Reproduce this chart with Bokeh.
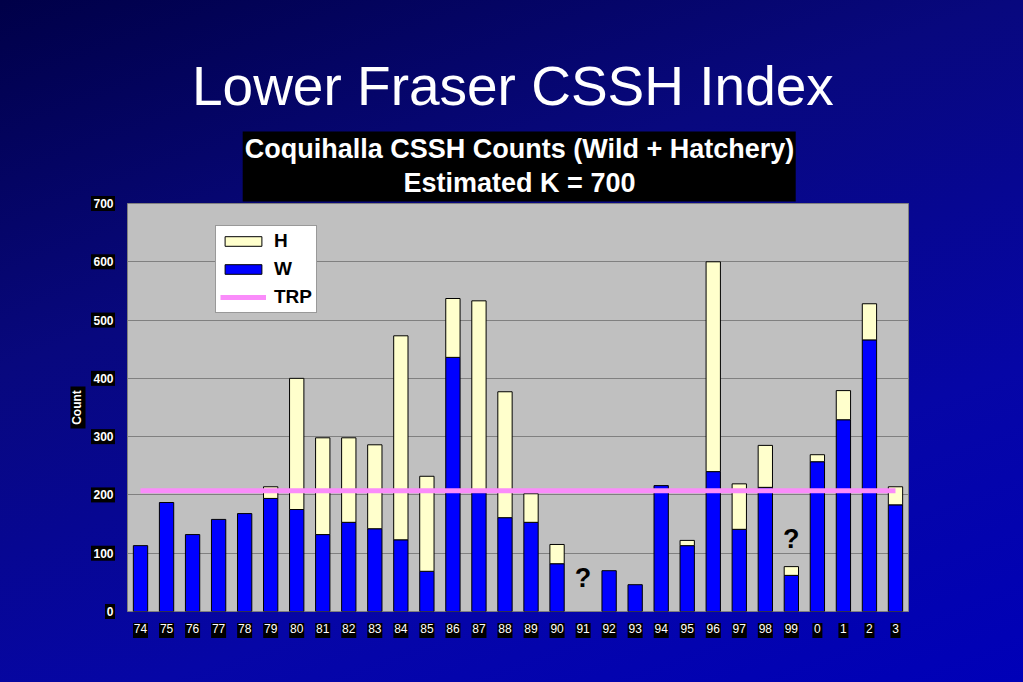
from bokeh.plotting import figure
from bokeh.models import (ColumnDataSource, FixedTicker, Legend, LegendItem,
                          Range1d, FactorRange)
from bokeh.core.properties import value
from bokeh.embed import file_html
from bokeh.resources import INLINE

# ---------------- data ----------------
years = ["74", "75", "76", "77", "78", "79", "80", "81", "82", "83", "84", "85", "86", "87", "88",
         "89", "90", "91", "92", "93", "94", "95", "96", "97", "98", "99", "0", "1", "2", "3"]
wild = [113, 187, 132, 158, 168, 194, 175, 132, 153, 142, 123, 69, 436, 204, 161,
        153, 82, 0, 70, 46, 216, 113, 240, 141, 213, 62, 257, 329, 466, 183]
hatchery = [0, 0, 0, 0, 0, 20, 225, 166, 145, 144, 350, 163, 101, 329, 216,
            49, 33, 0, 0, 0, 0, 9, 360, 78, 72, 15, 12, 50, 62, 31]
trp = 207
unknown_years = ["91", "99"]
unknown_y = [57, 125]
y_ticks = [0, 100, 200, 300, 400, 500, 600, 700]

title_text = "Lower Fraser CSSH Index"
subtitle_lines = ["Coquihalla CSSH Counts (Wild + Hatchery)", "Estimated K = 700"]

FONT = "Liberation Sans"
BLUE = "#0000ff"
YELLOW = "#ffffcc"
PINK = "#fa8cfa"

# ---------------- figure ----------------
FRAME_W, FRAME_H = 781, 408
p = figure(x_range=FactorRange(factors=years, range_padding=0),
           y_range=Range1d(0, 700),
           width=1015, height=674,
           min_border_left=127, min_border_right=107,
           min_border_top=203, min_border_bottom=63,
           output_backend="svg", toolbar_location=None)

p.background_fill_color = "#c0c0c0"
p.border_fill_color = None
p.outline_line_color = "#808080"
p.outline_line_width = 1

try:
    from bokeh.models import GlobalInlineStyleSheet
    p.stylesheets = [GlobalInlineStyleSheet(css=(
        "html, body { background: linear-gradient(160deg, #000048 0%, #08087e 35%, "
        "#0606a6 70%, #0000b8 100%) fixed; }"))]
except Exception:
    pass

# helpers: pixel offsets from the frame -> data coordinates (for placing texts outside it)
px_per_cat = FRAME_W / len(years)
px_per_unit = FRAME_H / 700.0


def sx(px):
    return (px - 127) / px_per_cat


def sy(py):
    return (611 - py) / px_per_unit


w_plot = [float("nan") if v == 0 else v for v in wild]
h_plot = [float("nan") if v == 0 else v for v in hatchery]
src = ColumnDataSource(dict(year=years, W=w_plot, H=h_plot))

rs = p.vbar_stack(["W", "H"], x="year", width=0.55, source=src,
                  fill_color=[BLUE, YELLOW], line_color="black", line_width=1)

trp_line = p.line(x=[years[0], years[-1]], y=[trp, trp], line_color=PINK, line_width=5)

p.text(x=unknown_years, y=unknown_y, text=["?"] * len(unknown_years),
       text_font=value(FONT), text_font_style="bold", text_font_size="27px",
       text_align="center", text_baseline="middle", text_color="black")

# ---------------- axes ----------------
p.xgrid.grid_line_color = None
p.ygrid.grid_line_color = "#808080"
p.ygrid.grid_line_width = 1

p.yaxis.ticker = FixedTicker(ticks=y_ticks)
for ax in (p.xaxis[0], p.yaxis[0]):
    ax.axis_line_color = None
    ax.major_tick_line_color = None
    ax.minor_tick_line_color = None
    ax.major_tick_out = 0
    ax.major_tick_in = 0
    ax.major_label_text_color = "white"
    ax.major_label_text_font = FONT
    ax.major_label_text_font_size = "12px"
    ax.level = "overlay"

p.xaxis.major_label_standoff = 12
p.yaxis.major_label_standoff = 14
p.yaxis.major_label_text_font_style = "bold"
p.yaxis.axis_label = "Count"
p.yaxis.axis_label_text_color = "white"
p.yaxis.axis_label_text_font = FONT
p.yaxis.axis_label_text_font_size = "12px"
p.yaxis.axis_label_text_font_style = "bold"
p.yaxis.axis_label_standoff = 6

# black boxes behind the axis texts (drawn outside the frame, under the axes)
xbox_w = [15 if len(s) == 2 else 10 for s in years]
p.rect(x=years, y=[sy(630)] * len(years), width=xbox_w, height=15,
       width_units="screen", height_units="screen", fill_color="black",
       line_color=None, level="annotation")
ylab = [str(t) for t in y_ticks]
ybox_w = [7 * len(s) + 3 for s in ylab]
ybox_x = [sx(127 - 14 - (w - 3) / 2) for w in ybox_w]
p.rect(x=ybox_x, y=y_ticks, width=ybox_w, height=15,
       width_units="screen", height_units="screen", fill_color="black",
       line_color=None, level="annotation")
p.rect(x=[sx(77.5)], y=[350], width=15, height=42,
       width_units="screen", height_units="screen", fill_color="black",
       line_color=None, level="annotation")

# ---------------- legend ----------------
legend = Legend(items=[LegendItem(label="H", renderers=[rs[1]]),
                       LegendItem(label="W", renderers=[rs[0]]),
                       LegendItem(label="TRP", renderers=[trp_line])],
                location=(88, 298))
legend.label_text_font = FONT
legend.label_text_font_size = "19px"
legend.label_text_font_style = "bold"
legend.label_text_color = "black"
legend.glyph_width = 46
legend.glyph_height = 12
legend.label_height = 20
legend.label_standoff = 8
legend.spacing = 6
legend.padding = 4
legend.margin = 0
legend.border_line_color = "#333333"
legend.border_line_width = 1
legend.background_fill_color = "white"
legend.background_fill_alpha = 1
p.add_layout(legend)

# ---------------- titles (outside the frame) ----------------
p.text(x=[sx(512.4)], y=[sy(85.5)], text=[title_text], text_font=value(FONT),
       text_font_size="55px", text_color="white", text_align="center",
       text_baseline="alphabetic", level="annotation")
p.rect(x=[sx(518.7)], y=[sy(166)], width=553, height=70,
       width_units="screen", height_units="screen", fill_color="black",
       line_color=None, level="annotation")
p.text(x=[sx(519)] * 2, y=[sy(148), sy(182)], text=subtitle_lines, text_font=value(FONT),
       text_font_size="27px", text_font_style="bold", text_color="white",
       text_align="center", text_baseline="alphabetic", level="annotation")

open("out.html", "w").write(file_html(p, INLINE))
